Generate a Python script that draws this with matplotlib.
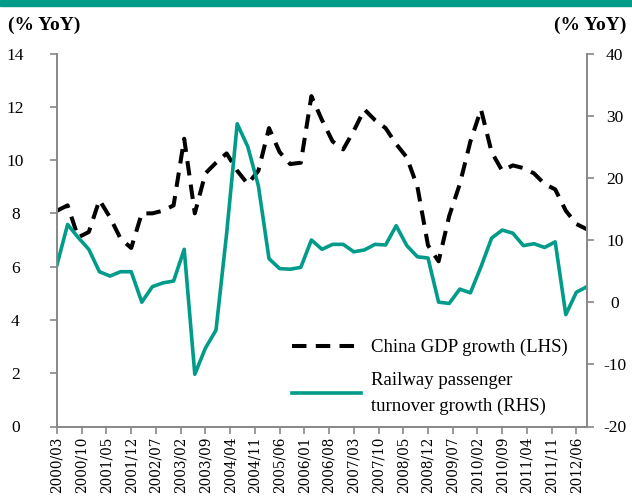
import matplotlib
matplotlib.use("Agg")
import matplotlib.pyplot as plt
from matplotlib.patches import Rectangle

# Quarter-end months, 2000/03 .. 2012/09
quarters = [f"{y}/{m:02d}" for y in range(2000, 2013) for m in (3, 6, 9, 12)][:51]

gdp_growth = [8.1, 8.3, 7.1, 7.3, 8.5, 7.85, 7.05, 6.7, 8.0, 8.0, 8.1, 8.3,
              10.8, 8.0, 9.5, 9.9, 10.25, 9.6, 9.1, 9.6, 11.2, 10.3, 9.85, 9.9,
              12.4, 11.5, 10.7, 10.4, 11.1, 11.9, 11.5, 11.2, 10.6, 10.1, 9.0, 6.8,
              6.2, 7.9, 9.1, 10.7, 11.9, 10.3, 9.6, 9.8, 9.7, 9.5, 9.1, 8.9,
              8.1, 7.6, 7.4]

rail_growth = [6.0, 12.5, 10.4, 8.5, 4.9, 4.2, 4.9, 4.9, 0.0, 2.5, 3.1, 3.4,
               8.5, -11.6, -7.4, -4.5, 11.0, 28.7, 25.0, 18.7, 7.0, 5.4, 5.3, 5.6,
               10.0, 8.5, 9.3, 9.3, 8.1, 8.4, 9.3, 9.2, 12.3, 9.1, 7.3, 7.1,
               0.0, -0.2, 2.1, 1.5, 5.7, 10.3, 11.6, 11.1, 9.1, 9.4, 8.8, 9.7,
               -2.0, 1.6, 2.5]

x_tick_labels = ["2000/03", "2000/10", "2001/05", "2001/12", "2002/07", "2003/02",
                 "2003/09", "2004/04", "2004/11", "2005/06", "2006/01", "2006/08",
                 "2007/03", "2007/10", "2008/05", "2008/12", "2009/07", "2010/02",
                 "2010/09", "2011/04", "2011/11", "2012/06"]

left_ticks = [0, 2, 4, 6, 8, 10, 12, 14]
right_ticks = [-20, -10, 0, 10, 20, 30, 40]


def month_index(label):
    y, m = label.split("/")
    return (int(y) - 2000) * 12 + int(m) - 3


TEAL = "#009B89"
GREY = "#878787"
FONT = "Liberation Serif"

plt.rcParams["font.family"] = FONT
plt.rcParams["axes.unicode_minus"] = False

W, H = 632, 497
fig = plt.figure(figsize=(W / 100, H / 100), dpi=100)
fig.patches.append(Rectangle((0, 1 - 6 / H), 1, 6 / H, transform=fig.transFigure,
                             color=TEAL, zorder=0))

ax = fig.add_axes([57 / W, (H - 426.5) / H, 530 / W, 373 / H])
ax2 = ax.twinx()

xs = [month_index(q) for q in quarters]

l1, = ax.plot(xs, gdp_growth, color="black", lw=2.9, linestyle=(0, (3.6, 2.3)),
              dash_capstyle="butt", label="China GDP growth (LHS)")
l2, = ax2.plot(xs, rail_growth, color=TEAL, lw=2.6,
               label="Railway passenger\nturnover growth (RHS)")

ax.set_xlim(0, 150)
ax.set_ylim(0, 14)
ax2.set_ylim(-20, 40)
ax.set_yticks(left_ticks)
ax2.set_yticks(right_ticks)
ax.set_xticks([month_index(t) for t in x_tick_labels])
ax.set_xticklabels(x_tick_labels, rotation=90, fontsize=9.8, family="DejaVu Serif")

for a in (ax, ax2):
    a.spines["top"].set_visible(False)
    for s in ("left", "right", "bottom"):
        a.spines[s].set_color(GREY)
        a.spines[s].set_linewidth(1.2)
    a.tick_params(colors=GREY, labelcolor="black", length=5, width=1.2)

ax.tick_params(axis="y", labelsize=12.5, pad=25)
for t in ax.get_yticklabels():
    t.set_horizontalalignment("center")
ax2.tick_params(axis="y", labelsize=12.5, pad=15)
for t in ax2.get_yticklabels():
    t.set_horizontalalignment("center")
ax.tick_params(axis="x", pad=2)

fig.text(8 / W, 1 - 30 / H, "(% YoY)", fontsize=14, fontweight="bold",
         ha="left", va="baseline")
fig.text(626 / W, 1 - 30 / H, "(% YoY)", fontsize=14, fontweight="bold",
         ha="right", va="baseline")

leg = ax2.legend(handles=[l1, l2], loc="upper left", frameon=False,
                 bbox_to_anchor=(292 / W, 1 - 339 / H), bbox_transform=fig.transFigure,
                 fontsize=13.5, handlelength=3.7, handletextpad=0.5, labelspacing=0.85,
                 borderaxespad=0, borderpad=0)
leg.get_texts()[1].set_linespacing(1.6)

fig.savefig("out.png", dpi=100)
